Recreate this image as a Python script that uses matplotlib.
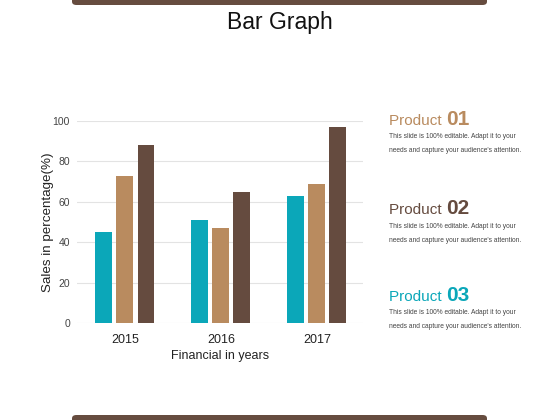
import matplotlib
matplotlib.use("Agg")
import matplotlib.pyplot as plt
from matplotlib.patches import FancyBboxPatch
import numpy as np

plt.rcParams['font.family'] = ['Liberation Sans', 'DejaVu Sans']

years = ["2015", "2016", "2017"]
product1 = [45, 51, 63]
product2 = [73, 47, 69]
product3 = [88, 65, 97]
series_colors = ["#0ba7b9", "#b98b5f", "#654b3f"]
yticks = [0, 20, 40, 60, 80, 100]

W, H = 560, 420
fig = plt.figure(figsize=(5.6, 4.2), dpi=100)

# decorative bars top/bottom (pixel top edge, height)
for top_px in (-6, 415):
    p = FancyBboxPatch((72 / W, 1 - (top_px + 11) / H), (487 - 72) / W, 11 / H,
                       boxstyle="round,pad=0,rounding_size=0.008", transform=fig.transFigure,
                       facecolor="#664c3f", edgecolor="none")
    fig.patches.append(p)

fig.text(280 / W, 1 - 22 / H, "Bar Graph", ha="center", va="center", fontsize=16.5, color="#111111")

ax = fig.add_axes([77 / W, 1 - 323 / H, (363 - 77) / W, (323 - 121) / H])
x = np.arange(len(years))
w = 0.177
off = 0.219
for i, (vals, c) in enumerate(zip([product1, product2, product3], series_colors)):
    ax.bar(x + (i - 1) * off, vals, width=w, color=c, zorder=3)
ax.set_xlim(-0.5, 2.48)
ax.set_ylim(0, 100)
ax.set_yticks(yticks)
ax.set_xticks(x)
ax.set_xticklabels(years, fontsize=9, color="#222222")
ax.tick_params(axis='y', labelsize=7.5, colors="#444444", length=0, pad=5)
ax.tick_params(axis='x', length=0, pad=8)
ax.grid(axis='y', color="#e3e3e3", linewidth=0.8, zorder=0)
for s in ax.spines.values():
    s.set_visible(False)
ax.set_xlabel("Financial in years", fontsize=9, color="#222222", labelpad=3)
ax.set_ylabel("Sales in percentage(%)", fontsize=9.6, color="#222222", labelpad=-1)

products = ["01", "02", "03"]
prod_colors = ["#b98b5f", "#654b3f", "#0ba7b9"]
prod_y = [120, 209, 296]
desc1 = "This slide is 100% editable. Adapt it to your"
desc2 = "needs and capture your audience's attention."
for num, c, yy in zip(products, prod_colors, prod_y):
    t = fig.text(389 / W, 1 - (yy + 5) / H, "Product ", fontsize=11, color=c, ha="left", va="baseline")
    fig.canvas.draw()
    bb = t.get_window_extent()
    fig.text(bb.x1 / W, 1 - (yy + 5) / H, num, fontsize=15, fontweight="bold", color=c, ha="left", va="baseline")
    fig.text(389 / W, 1 - (yy + 17) / H, desc1, fontsize=4.8, color="#444444", ha="left", va="center")
    fig.text(389 / W, 1 - (yy + 31) / H, desc2, fontsize=4.8, color="#444444", ha="left", va="center")

fig.savefig("out.png", dpi=100)
